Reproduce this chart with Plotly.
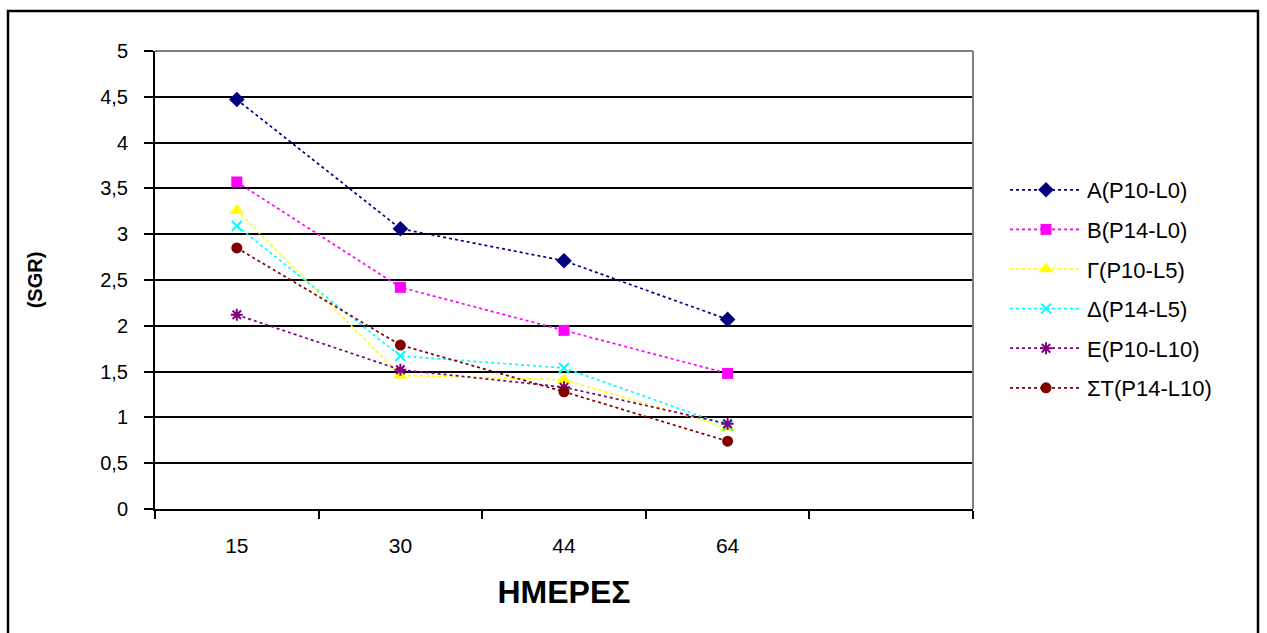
import plotly.graph_objects as go

days = ["15", "30", "44", "64"]
cat_pos = [1, 2, 3, 4]
names = ["A(P10-L0)", "B(P14-L0)", "Γ(P10-L5)", "Δ(P14-L5)", "E(P10-L10)", "ΣT(P14-L10)"]
A = [4.47, 3.06, 2.71, 2.07]
B = [3.57, 2.42, 1.95, 1.48]
G = [3.26, 1.46, 1.41, 0.89]
D = [3.09, 1.67, 1.54, 0.91]
E = [2.12, 1.52, 1.33, 0.93]
ST = [2.85, 1.79, 1.28, 0.74]
y_ticks = [0, 0.5, 1, 1.5, 2, 2.5, 3, 3.5, 4, 4.5, 5]
y_labels = ["0", "0,5", "1", "1,5", "2", "2,5", "3", "3,5", "4", "4,5", "5"]

series = [A, B, G, D, E, ST]
colors = ["#000080", "#FF00FF", "#FFFF00", "#00FFFF", "#800080", "#800000"]
symbols = ["diamond", "square", "triangle-up", "x-thin-open", "asterisk-open", "circle"]
sizes = [12, 11, 13, 10, 10, 11]

fig = go.Figure()
for i, (nm, vals) in enumerate(zip(names, series)):
    mk = dict(symbol=symbols[i], size=sizes[i], color=colors[i])
    if symbols[i].endswith("open"):
        mk["line"] = dict(color=colors[i], width=2)
    fig.add_trace(go.Scatter(
        x=cat_pos, y=vals, name=nm, mode="lines+markers",
        line=dict(color=colors[i], width=1.7, dash="dot"),
        marker=mk, legendgroup=str(i),
    ))

L, R, T, Bm = 155, 1267 - 973, 51, 633 - 509
pw, ph = 973 - 155, 509 - 51
FONT = "Liberation Sans, Arial, sans-serif"

fig.update_layout(
    width=1267, height=633,
    margin=dict(l=L, r=R, t=T, b=Bm),
    paper_bgcolor="white", plot_bgcolor="white",
    font=dict(family=FONT, size=18, color="black"),
    showlegend=True,
    legend=dict(x=(1005 - 155) / pw, y=(509 - 169) / ph, xanchor="left", yanchor="top",
                font=dict(size=22, family=FONT), itemwidth=72, tracegroupgap=8,
                traceorder="grouped", bgcolor="rgba(0,0,0,0)"),
    xaxis=dict(
        range=[0.5, 5.5], tickmode="array", tickvals=cat_pos, ticktext=days,
        ticks="", showgrid=False, zeroline=False,
        showline=True, linecolor="black", linewidth=2,
        tickfont=dict(size=21, family=FONT),
        ticklabelstandoff=17,
        minor=dict(tickmode="array", tickvals=[0.5, 1.5, 2.5, 3.5, 4.5, 5.5], ticks="outside",
                   ticklen=8, tickwidth=2, tickcolor="black", showgrid=False),
        title=dict(text="<b>ΗΜΕΡΕΣ</b>", standoff=24,
                   font=dict(size=32, family=FONT)),
        fixedrange=True,
    ),
    yaxis=dict(
        range=[0, 5], tickmode="array", tickvals=y_ticks, ticktext=y_labels,
        ticks="outside", ticklen=9, tickwidth=1.5, tickcolor="black",
        showgrid=True, gridcolor="black", gridwidth=1.5, zeroline=False,
        showline=True, linecolor="black", linewidth=2,
        tickfont=dict(size=20, family=FONT),
        ticklabelstandoff=12,
        title=dict(text="<b>(SGR)</b>", standoff=52, font=dict(size=20, family=FONT)),
        fixedrange=True,
    ),
    shapes=[
        dict(type="line", xref="paper", yref="paper", x0=0, x1=1, y0=1, y1=1,
             line=dict(color="#808080", width=2)),
        dict(type="line", xref="paper", yref="paper", x0=1, x1=1, y0=0, y1=1,
             line=dict(color="#808080", width=2)),
        dict(type="rect", xref="paper", yref="paper",
             x0=(8 - 155) / pw, x1=(1258 - 155) / pw,
             y0=(509 - 640) / ph, y1=(509 - 11) / ph,
             line=dict(color="black", width=2.5), layer="above"),
    ],
)

fig.write_html("out.html")
